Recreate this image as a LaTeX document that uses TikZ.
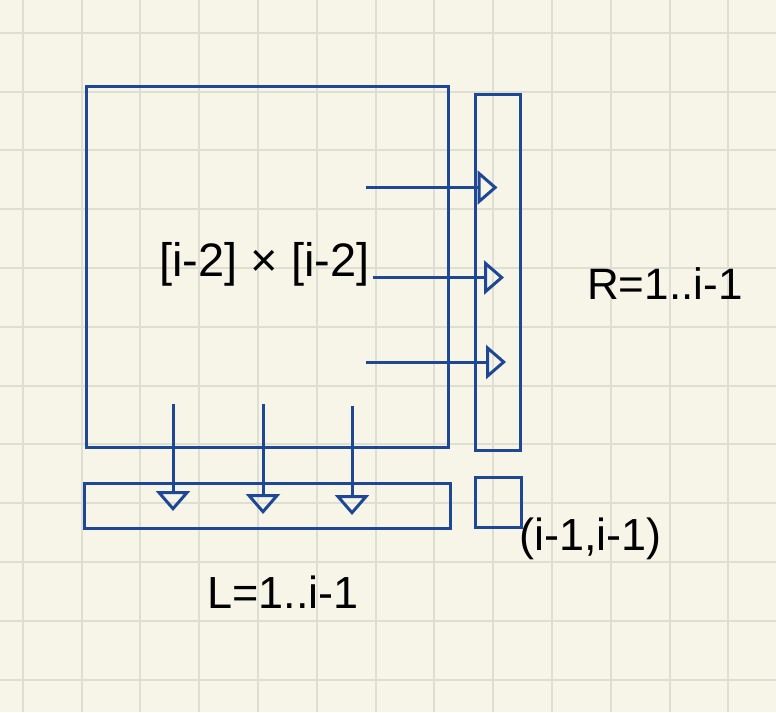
\documentclass[tikz,border=0pt]{standalone}
\usepackage{fontspec}
\setmainfont{Liberation Sans}
\usetikzlibrary{arrows.meta,positioning}
\definecolor{paper}{RGB}{247,245,232}
\definecolor{gridln}{RGB}{222,222,210}
\definecolor{ink}{RGB}{30,72,150}
\tikzset{
  blk/.style={draw=ink,line width=3pt,inner sep=0pt,outer sep=0pt},
  flow/.style={draw=ink,line width=3pt,-{Triangle[open,length=20pt 0,width=34pt 0]}},
  lbl/.style={anchor=base west,inner sep=0pt,text=black,font=\fontsize{45}{54}\selectfont},
  every node/.style={font=\small}
}

\begin{document}
\begin{tikzpicture}[x=1pt,y=-1pt]
\fill[paper] (0,0) rectangle (776,712);
\useasboundingbox (0,0) rectangle (776,712);
\foreach \k in {0,...,12}
  \draw[gridln,line width=2pt] (22.7+58.8*\k,0) -- (22.7+58.8*\k,712);
\foreach \k in {0,...,11}
  \draw[gridln,line width=2pt] (0,32.7+58.8*\k) -- (776,32.7+58.8*\k);
% blocks
\node[blk,minimum width=362pt,minimum height=361pt] (sub) at (267,266.5) {};
\node[blk,minimum width=45pt,minimum height=356pt] (rcol) at (497.5,272) {};
\node[blk,minimum width=366pt,minimum height=45pt] (lrow) at (267,505.5) {};
\node[blk,minimum width=46pt,minimum height=50pt] (diag) at (498,502.5) {};
% labels
\node[lbl,font=\fontsize{47}{56}\selectfont] (subtxt) at (159,276) {[i-2] × [i-2]};
\node[lbl,font=\fontsize{44}{52}\selectfont] (rtxt) at (587,299) {R=1..i-1};
\node[lbl] (ltxt) at (207,608) {L=1..i-1};
\node[lbl] (dtxt) at (519,550) {(i-1,i-1)};
% arrow ends
\coordinate (r1a) at (366,187.5);
\coordinate (r1b) at (497.5,187.5);
\coordinate (r2a) at (373,277.5);
\coordinate (r2b) at (504,277.5);
\coordinate (r3a) at (366,362);
\coordinate (r3b) at (506,362);
\coordinate (d1a) at (173,404);
\coordinate (d1b) at (173,511);
\coordinate (d2a) at (263,404);
\coordinate (d2b) at (263,514);
\coordinate (d3a) at (352,406);
\coordinate (d3b) at (352,515);
\draw[flow] (r1a) -- (r1b);
\draw[flow] (r2a) -- (r2b);
\draw[flow] (r3a) -- (r3b);
\draw[flow] (d1a) -- (d1b);
\draw[flow] (d2a) -- (d2b);
\draw[flow] (d3a) -- (d3b);
\end{tikzpicture}
\end{document}
